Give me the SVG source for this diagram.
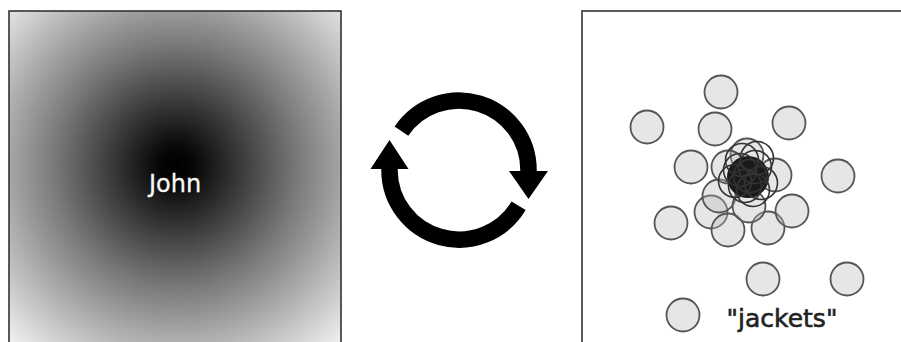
<svg xmlns="http://www.w3.org/2000/svg" width="901" height="342" viewBox="0 0 901 342">
<defs>
<radialGradient id="g" gradientUnits="userSpaceOnUse" cx="176" cy="166" r="245">
<stop offset="0" stop-color="#000"/>
<stop offset="0.07" stop-color="#060606"/>
<stop offset="0.5" stop-color="#7a7a7a"/>
<stop offset="1" stop-color="#f4f4f4"/>
</radialGradient>
<style>
.c{fill:#b8b8b8;fill-opacity:0.35;stroke:#555;stroke-width:1.8}
.k{fill:none;stroke:#333;stroke-width:1.6}
.box{stroke:#333;stroke-width:1.6}
.arc{fill:none;stroke:#000;stroke-width:16.5}
</style>
</defs>
<rect width="901" height="342" fill="#fff"/>
<g id="john-panel">
<rect class="box" x="9" y="11" width="332" height="340" fill="url(#g)"/>
<text x="175" y="192" font-family="DejaVu Sans, Verdana, sans-serif" font-size="24" fill="#f8f8f8" stroke="#f8f8f8" stroke-width="0.3" text-anchor="middle">John</text>
</g>
<g id="jackets-panel">
<rect class="box" x="582" y="11" width="330" height="340" fill="#fff"/>
<circle class="c" cx="721" cy="92" r="16.5"/>
<circle class="c" cx="647" cy="127" r="16.5"/>
<circle class="c" cx="715" cy="129" r="16.5"/>
<circle class="c" cx="789" cy="123" r="16.5"/>
<circle class="c" cx="691" cy="167" r="16.5"/>
<circle class="c" cx="838" cy="176" r="16.5"/>
<circle class="c" cx="671" cy="223" r="16.5"/>
<circle class="c" cx="711" cy="212" r="16.5"/>
<circle class="c" cx="728" cy="230" r="16.5"/>
<circle class="c" cx="719" cy="196" r="16.5"/>
<circle class="c" cx="768" cy="228" r="16.5"/>
<circle class="c" cx="792" cy="211" r="16.5"/>
<circle class="c" cx="749" cy="206" r="16.5"/>
<circle class="c" cx="775" cy="175" r="16.5"/>
<circle class="c" cx="763" cy="279" r="16.5"/>
<circle class="c" cx="847" cy="279" r="16.5"/>
<circle class="c" cx="683" cy="315" r="16.5"/>
<circle class="c" cx="747" cy="155" r="16.5"/>
<circle class="c" cx="728" cy="167" r="16.5"/>
<circle cx="748" cy="177" r="21" fill="#1a1a1a"/>
<circle class="k" cx="740" cy="170" r="16.5"/>
<circle class="k" cx="755" cy="167" r="16.5"/>
<circle class="k" cx="745" cy="186" r="16.5"/>
<circle class="k" cx="735" cy="181" r="16.5"/>
<circle class="k" cx="761" cy="183" r="16.5"/>
<circle class="k" cx="750" cy="176" r="16.5"/>
<circle class="k" cx="742" cy="160" r="16.5"/>
<circle class="k" cx="757" cy="158" r="16.5"/>
<circle class="k" cx="753" cy="190" r="16.5"/>
<text x="782" y="327" font-family="DejaVu Sans, Verdana, sans-serif" font-size="25" fill="#222" stroke="#222" stroke-width="0.6" text-anchor="middle">"jackets"</text>
</g>
<g id="connectors">
<path class="arc" d="M401.4,131.1 A69.5,69.5 0 0 1 528.5,170 L528.5,173"/>
<polygon points="509,171 548,171 528.5,199" fill="#000"/>
<path class="arc" d="M518.6,205.8 A69.5,69.5 0 0 1 389.5,170 L389.5,167"/>
<polygon points="370.5,169 408.5,169 389.5,140" fill="#000"/>
</g>
</svg>
